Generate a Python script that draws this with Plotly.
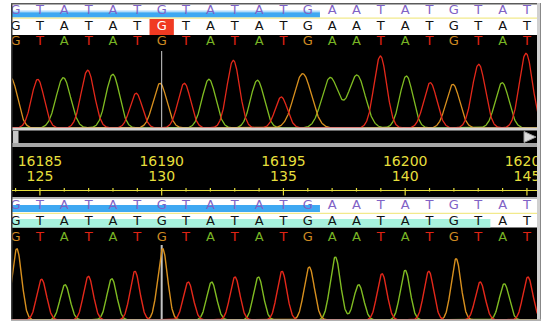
import numpy as np
import plotly.graph_objects as go

W, H = 544, 322

# ---------------- data ----------------
bases = list("GTATATGTATATGAATATGTAT")
positions = list(range(124, 146))
ruler_pos = [125, 130, 135, 140, 145]
ruler_ref = ["16185", "16190", "16195", "16200", "16205"]
ruler_read = ["125", "130", "135", "140", "145"]
cursor_pos = 130
mismatch_pos = 130
blue_band_end = 136.5
cyan_band_end = 143.5

# upper trace: one peak per called base
top_peak_pos = [123.81, 124.91, 125.96, 126.96, 127.99, 128.95, 129.93, 130.93, 131.94, 132.94, 133.93,
                134.91, 135.79, 136.92, 138.02, 138.98, 140.05, 141.03, 141.96, 143.02, 143.98, 144.96]
top_peak_h = [50, 48.7, 50.3, 57.7, 53.7, 34.7, 44.7, 44.7, 48.7, 67.7, 47.7,
              31, 54.3, 50.3, 52.7, 72, 52, 45.3, 43.7, 63.7, 45.3, 74.7]
top_peak_w = [0.27, 0.26, 0.30, 0.27, 0.28, 0.25, 0.28, 0.26, 0.28, 0.26, 0.28,
              0.25, 0.36, 0.34, 0.34, 0.26, 0.27, 0.27, 0.28, 0.27, 0.28, 0.27]

# lower trace
bot_peak_pos = [124.05, 125.07, 126.03, 126.99, 127.95, 128.90, 130.04, 131.09, 132.05, 133.01, 133.97,
                134.94, 136.06, 137.13, 138.09, 139.05, 140.00, 140.97, 142.09, 143.08, 144.07, 145.04]
bot_peak_h = [71.3, 40.7, 35.3, 43.7, 41.3, 48.7, 71.3, 38, 38, 43, 43,
              48.7, 53, 63, 35.3, 46.3, 49.7, 48.7, 61.3, 38, 36.3, 43]
bot_peak_w = [0.20, 0.20, 0.20, 0.20, 0.20, 0.20, 0.20, 0.20, 0.20, 0.20, 0.20,
              0.20, 0.21, 0.21, 0.20, 0.20, 0.20, 0.20, 0.20, 0.20, 0.20, 0.20]

# ---------------- styling ----------------
ch_color = {"T": "#e4281a", "A": "#80bc22", "G": "#d8901e"}
letter_color = {"T": "#e02414", "A": "#78b424", "G": "#d08a22"}
purple = "#7f62c6"
yellow = "#e6df3c"
FONT = "DejaVu Sans"

PX = 24.35          # pixels per base
X_PIX0 = 123.36     # base position at pixel 0
LEFT, RIGHT = 12, 537


def px2pos(p):
    return X_PIX0 + p / PX


def fx(p):
    return p / W


def fy(p):
    return 1 - p / H


xs = np.linspace(px2pos(LEFT) - 0.3, px2pos(RIGHT) + 0.3, 1600)


def channel_curve(base_list, pos, hts, wds, ch):
    y = np.zeros_like(xs)
    for b, p, h, w in zip(base_list, pos, hts, wds):
        if b == ch:
            y += h * np.exp(-0.5 * ((xs - p) / w) ** 2)
    return y


fig = go.Figure()
for ch in ["A", "G", "T"]:
    fig.add_trace(go.Scatter(x=xs, y=channel_curve(bases, top_peak_pos, top_peak_h, top_peak_w, ch),
                             mode="lines", line=dict(color=ch_color[ch], width=1.3),
                             xaxis="x", yaxis="y", hoverinfo="skip", showlegend=False))
for ch in ["A", "G", "T"]:
    fig.add_trace(go.Scatter(x=xs, y=channel_curve(bases, bot_peak_pos, bot_peak_h, bot_peak_w, ch),
                             mode="lines", line=dict(color=ch_color[ch], width=1.4),
                             xaxis="x", yaxis="y2", hoverinfo="skip", showlegend=False))


# ---- text rows (scatter text, clipped to the frame) ----
def letter_row(ypix, colors, size=13):
    fig.add_trace(go.Scatter(x=positions, y=[ypix] * len(positions), mode="text", text=bases,
                             textposition="middle center", cliponaxis=True,
                             textfont=dict(family=FONT, size=size,
                                           color=[colors(p, b) for p, b in zip(positions, bases)]),
                             xaxis="x", yaxis="y3", hoverinfo="skip", showlegend=False))


letter_row(11, lambda p, b: purple)
letter_row(26.5, lambda p, b: "#ffffff" if p == mismatch_pos else "#111111")
letter_row(42, lambda p, b: letter_color[b])
letter_row(205.5, lambda p, b: purple)
letter_row(222, lambda p, b: "#111111")
letter_row(237.5, lambda p, b: letter_color[b])

for ypix, labels in [(162, ruler_ref), (177.5, ruler_read)]:
    fig.add_trace(go.Scatter(x=ruler_pos, y=[ypix] * len(ruler_pos), mode="text", text=labels,
                             textposition="middle center", cliponaxis=True,
                             textfont=dict(family=FONT, size=14, color=yellow),
                             xaxis="x", yaxis="y3", hoverinfo="skip", showlegend=False))

shapes = []


def rect(x0, y0, x1, y1, color, layer="below", xref="paper"):
    if xref == "paper":
        X0, X1 = fx(x0), fx(x1)
    else:
        X0, X1 = x0, x1
    shapes.append(dict(type="rect", xref=xref, yref="paper", x0=X0, x1=X1, y0=fy(y1), y1=fy(y0),
                       fillcolor=color, line=dict(width=0), layer=layer))


def hline(x0, x1, y, color, width=1, layer="below"):
    shapes.append(dict(type="line", xref="paper", yref="paper", x0=fx(x0), x1=fx(x1), y0=fy(y), y1=fy(y),
                       line=dict(color=color, width=width), layer=layer))


# frame / backgrounds
rect(LEFT, 3, RIGHT, 320, "#000000")
# upper rows
rect(LEFT, 4, RIGHT, 35, "#ffffff")
rect(px2pos(LEFT), 10.5, blue_band_end, 12.2, "#b4dcfa", xref="x")
rect(px2pos(LEFT), 12.2, blue_band_end, 17.5, "#3ea8f2", xref="x")
hline(LEFT, RIGHT, 18.2, "#f2ea8c", 1.2)
rect(mismatch_pos - 0.5, 19, mismatch_pos + 0.5, 35, "#f03a22", xref="x")
# scrollbar
rect(LEFT, 127.5, RIGHT, 130.5, "#d2d2d2", layer="above")
rect(LEFT, 143, RIGHT, 147, "#a6a6a6")
rect(13, 131, 18.5, 143, "#c8c8c8")
shapes.append(dict(type="path", xref="paper", yref="paper",
                   path=f"M {fx(524)} {fy(131.5)} L {fx(536)} {fy(137)} L {fx(524)} {fy(142.5)} Z",
                   fillcolor="#dcdcdc", line=dict(color="#9a9a9a", width=1), layer="above"))
# separator under ruler
rect(LEFT, 197, RIGHT, 199, "#b8b8b8")
# lower rows
rect(LEFT, 199, RIGHT, 227.5, "#ffffff")
rect(px2pos(LEFT), 205, blue_band_end, 212, "#3ea8f2", xref="x")
hline(LEFT, RIGHT, 213.3, "#f2ea8c", 1.2)
rect(px2pos(LEFT), 219, cyan_band_end, 227.5, "#a8f2de", xref="x")
# borders
rect(11, 3, 12.5, 321, "#3c3c3c", layer="above")
rect(11, 3, 541, 4.5, "#5a5a5a", layer="above")
rect(537, 3, 541, 321, "#d0d0d0", layer="above")
rect(540, 3, 541, 321, "#888888", layer="above")
rect(11, 319.3, 541, 321, "#b0b0b0", layer="above")

# cursor lines
shapes.append(dict(type="line", xref="x", yref="paper", x0=cursor_pos, x1=cursor_pos,
                   y0=fy(127.5), y1=fy(51), line=dict(color="#cfcfcf", width=1), layer="above"))
shapes.append(dict(type="line", xref="x", yref="paper", x0=cursor_pos, x1=cursor_pos,
                   y0=fy(319), y1=fy(245), line=dict(color="#c4c4c4", width=2), layer="below"))

# ruler ticks
hline(LEFT, RIGHT, 190.5, yellow, 1.2, layer="above")
for p in positions:
    major = p % 5 == 0
    shapes.append(dict(type="line", xref="x", yref="paper", x0=p, x1=p,
                       y0=fy(195.5 if major else 191.5), y1=fy(188),
                       line=dict(color=yellow, width=1.2), layer="above"))

fig.update_layout(
    width=W, height=H,
    margin=dict(l=0, r=0, t=0, b=0),
    paper_bgcolor="#ffffff", plot_bgcolor="rgba(0,0,0,0)",
    xaxis=dict(domain=[fx(LEFT), fx(RIGHT)], range=[px2pos(LEFT), px2pos(RIGHT)], visible=False, fixedrange=True),
    yaxis=dict(domain=[fy(130), fy(52)], range=[-2, 76], visible=False, fixedrange=True),
    yaxis2=dict(domain=[fy(321), fy(244)], range=[-1, 76], visible=False, fixedrange=True),
    yaxis3=dict(domain=[0, 1], range=[H, 0], visible=False, fixedrange=True),
    shapes=shapes, showlegend=False,
)

fig.write_html("out.html", config={"displayModeBar": False, "staticPlot": True},
               post_script="document.body.style.margin='0px';document.body.style.padding='0px';")
